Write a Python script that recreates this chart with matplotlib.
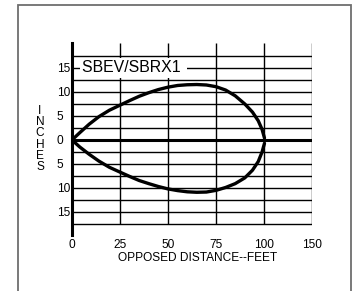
import numpy as np
import matplotlib
matplotlib.use("Agg")
import matplotlib.pyplot as plt
from matplotlib.patches import Rectangle

# ---- data ----
x_ticks = [0, 25, 50, 75, 100, 150]
x_tick_labels = ["0", "25", "50", "75", "100", "150"]
y_ticks = [15, 10, 5, 0, -5, -10, -15]
y_tick_labels = ["15", "10", "5", "0", "5", "10", "15"]
grid_y = [-17.5, -15, -12.5, -10, -7.5, -5, -2.5, 2.5, 5, 7.5, 10, 12.5, 15, 17.5]

upper_x = [0, 4, 9, 14, 19.5, 25, 30, 35, 40, 45, 50, 55, 60, 65, 70, 75, 80, 85, 90, 94, 97, 99, 100.5]
upper_y = [0, 1.5, 3.3, 4.85, 6.2, 7.25, 8.2, 9.1, 9.85, 10.5, 11.0, 11.35, 11.5, 11.55, 11.45, 11.1, 10.4, 9.2, 7.5, 5.8, 4.0, 2.2, 0.4]
lower_x = [0, 4, 9, 14, 19.5, 25, 30, 35, 40, 45, 50, 55, 60, 65, 70, 75, 80, 85, 90, 94, 97, 99, 100.5]
lower_y = [0, -1.45, -3.0, -4.4, -5.7, -6.7, -7.6, -8.45, -9.1, -9.7, -10.2, -10.55, -10.8, -10.9, -10.85, -10.5, -9.9, -9.1, -7.9, -6.3, -4.5, -2.5, -0.7]

title_text = "SBEV/SBRX1"
x_label = "OPPOSED DISTANCE--FEET"
y_label = "INCHES"

plt.rcParams['font.family'] = ['Liberation Sans', 'DejaVu Sans']

fig = plt.figure(figsize=(3.52, 2.91), dpi=100)
fig.patch.set_facecolor('white')

# outer frame (extends past right/bottom edges)
fig.add_artist(Rectangle((17.5/352, -0.1), (351 - 17.5)/352, 1 - 5/291 + 0.1,
                         transform=fig.transFigure, fill=False,
                         edgecolor='#6e6e6e', linewidth=1.3))

ax = fig.add_axes([72/352, 1 - 235/291, (312 - 72)/352, (235 - 43)/291])

fwd = lambda v: np.interp(v, x_ticks, np.arange(len(x_ticks)))
inv = lambda v: np.interp(v, np.arange(len(x_ticks)), x_ticks)
ax.set_xscale('function', functions=(fwd, inv))
ax.set_xlim(0, 150)
ax.set_ylim(-19.8, 20.2)

for s in ['top', 'right', 'bottom']:
    ax.spines[s].set_visible(False)
ax.spines['left'].set_linewidth(2.2)
ax.spines['left'].set_color('black')

# grid
ax.hlines(grid_y, 0, 150, colors='black', linewidth=1.0, zorder=1)
ax.hlines([0], 0, 150, colors='black', linewidth=2.2, zorder=1)
ax.vlines(x_ticks[1:], -17.5, 20.2, colors='black', linewidth=1.0, zorder=1)

# curves
ax.plot(upper_x, upper_y, color='black', linewidth=2.4, solid_joinstyle='round',
        solid_capstyle='round', zorder=3)
ax.plot(lower_x, lower_y, color='black', linewidth=2.4, solid_joinstyle='round',
        solid_capstyle='round', zorder=3)

ax.text(5.0, 15, title_text + " ", fontsize=11.4, va='center', ha='left',
        bbox=dict(facecolor='white', edgecolor='none', pad=1.5), zorder=2)

ax.set_xticks(x_ticks)
ax.set_xticklabels(x_tick_labels, fontsize=8.6)
ax.set_yticks(y_ticks)
ax.set_yticklabels(y_tick_labels, fontsize=8.6, ha='left')
ax.tick_params(axis='both', length=0)
ax.tick_params(axis='x', pad=3)
ax.tick_params(axis='y', pad=11)
ax.minorticks_off()

fig.text(198/352, 1 - 258/291, x_label, fontsize=8.6, ha='center', va='center')
fig.text(40/352, 1 - 139/291, "\n".join(y_label), fontsize=8.6, ha='center',
         va='center', multialignment='center', linespacing=0.93)

fig.savefig("out.png", dpi=100)
